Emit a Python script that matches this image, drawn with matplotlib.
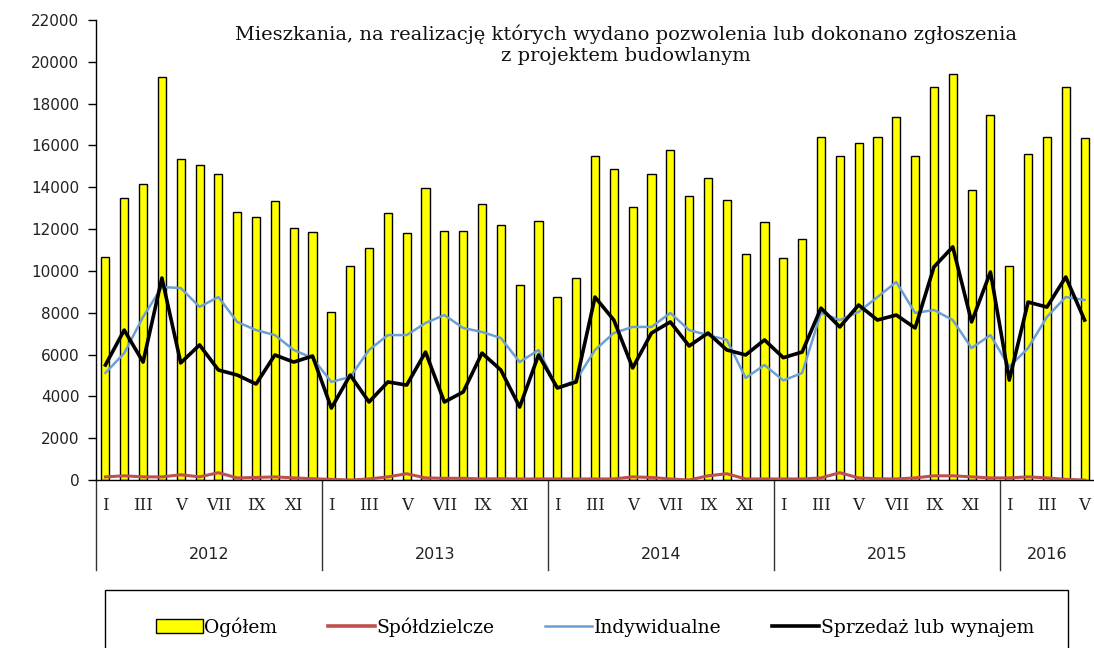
import matplotlib
matplotlib.use("Agg")
import matplotlib.pyplot as plt
from matplotlib.patches import Rectangle, Patch
from matplotlib.lines import Line2D
import matplotlib.transforms as mtransforms
import numpy as np

years = ["2012", "2013", "2014", "2015", "2016"]
months_per_year = [12, 12, 12, 12, 5]
month_labels = ["I", "", "III", "", "V", "", "VII", "", "IX", "", "XI", ""]

ogolem = [10670, 13490, 14160, 19280, 15350, 15070, 14640, 12820, 12580, 13340, 12050, 11860,
          8040, 10240, 11100, 12770, 11810, 13970, 11910, 11910, 13200, 12200, 9330, 12390,
          8750, 9660, 15500, 14870, 13060, 14640, 15780, 13580, 14440, 13390, 10810, 12340,
          10600, 11530, 16410, 15500, 16120, 16410, 17360, 15500, 18800, 19420, 13870, 17460,
          10240, 15590, 16410, 18800, 16360]

sprzedaz = [5500, 7170, 5640, 9660, 5600, 6460, 5260, 5020, 4590, 5980, 5640, 5930,
            3440, 5020, 3730, 4690, 4540, 6120, 3730, 4210, 6070, 5260, 3490, 5980,
            4400, 4690, 8750, 7650, 5360, 7030, 7560, 6410, 7030, 6220, 5980, 6700,
            5850, 6120, 8220, 7320, 8370, 7650, 7890, 7270, 10190, 11150, 7560, 9950,
            4780, 8510, 8270, 9710, 7650]

indywidualne = [5120, 6070, 7800, 9230, 9180, 8280, 8750, 7560, 7170, 6930, 6220, 5830,
                4690, 4930, 6220, 6930, 6930, 7510, 7890, 7270, 7080, 6790, 5640, 6220,
                4400, 4780, 6220, 7030, 7320, 7320, 7990, 7170, 6930, 6700, 4880, 5500,
                4760, 5120, 7990, 7650, 8040, 8750, 9470, 7990, 8130, 7650, 6310, 6930,
                5410, 6310, 7800, 8750, 8610]

spoldzielcze = [150, 200, 150, 150, 250, 150, 350, 100, 120, 150, 100, 60,
                30, 0, 50, 150, 300, 100, 80, 80, 50, 60, 50, 50,
                50, 50, 50, 50, 150, 120, 50, 0, 200, 300, 50, 50,
                50, 50, 100, 350, 100, 60, 50, 100, 200, 200, 150, 100,
                100, 150, 100, 30, 0]

title = "Mieszkania, na realizację których wydano pozwolenia lub dokonano zgłoszenia\nz projektem budowlanym"

SERIF = ["DejaVu Serif"]
SANS = ["DejaVu Sans"]

fig = plt.figure(figsize=(10.94, 6.48), dpi=100)
ax = fig.add_axes([96/1094, 1-480/648, 1-96/1094, 460/648])

n = len(ogolem)
x = np.arange(n)
ax.bar(x, ogolem, width=0.43, color="#FFFF00", edgecolor="black", linewidth=1.0, zorder=2)
ax.plot(x, spoldzielcze, color="#C0504D", lw=2.2, zorder=3)
ax.plot(x, indywidualne, color="#6E9FD4", lw=1.8, zorder=4)
ax.plot(x, sprzedaz, color="black", lw=2.6, zorder=5)

ax.set_xlim(-0.5, n - 0.5)
ax.set_ylim(0, 22000)
ax.set_yticks(np.arange(0, 22001, 2000))
ax.tick_params(axis="y", direction="out", length=6, width=1, labelsize=11, pad=6)
for lab in ax.get_yticklabels():
    lab.set_family(SANS)
    lab.set_color("#222222")
ax.set_xticks([])
for s in ["top", "right"]:
    ax.spines[s].set_visible(False)
ax.spines["left"].set_linewidth(1.0)
ax.spines["bottom"].set_linewidth(1.0)

trans = mtransforms.blended_transform_factory(ax.transData, ax.transAxes)
start = 0
for yr, cnt in zip(years, months_per_year):
    for m in range(cnt):
        if month_labels[m]:
            ax.text(start + m, -0.055, month_labels[m], transform=trans, ha="center", va="center",
                    family=SERIF, fontsize=12, color="#222222")
    ax.text(start + (cnt - 1) / 2, -0.163, yr, transform=trans, ha="center", va="center",
            family=SANS, fontsize=11.5, color="#222222")
    ax.plot([start - 0.5, start - 0.5], [0, -0.196], transform=trans, color="#333333",
            lw=1.0, clip_on=False)
    start += cnt

fig.text(626/1094, 1-45/648, title, ha="center", va="center", family=SERIF, fontsize=14,
         linespacing=1.2, color="#111111")

# Legend
handles = [Patch(facecolor="#FFFF00", edgecolor="black", linewidth=1.0),
           Line2D([], [], color="#C0504D", lw=2.6),
           Line2D([], [], color="#6E9FD4", lw=1.8),
           Line2D([], [], color="black", lw=2.6)]
labels = ["Ogółem", "Spółdzielcze", "Indywidualne", "Sprzedaż lub wynajem"]
leg = fig.legend(handles, labels, loc="center", bbox_to_anchor=(595/1094, 1-627/648), ncol=4,
                 frameon=False, prop={"family": SERIF, "size": 13.5}, handlelength=2.5,
                 handleheight=0.75, handletextpad=0.1, columnspacing=2.7)
fig.patches.append(Rectangle((105/1094, -0.02), (1068-105)/1094, 0.02 + (648-590)/648,
                             transform=fig.transFigure, fill=False, edgecolor="black", lw=1.0))

fig.savefig("out.png", dpi=100)
